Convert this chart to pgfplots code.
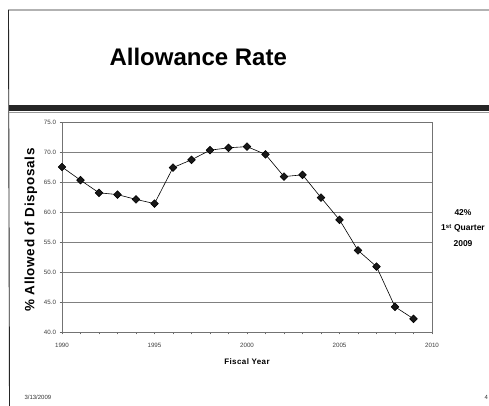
\documentclass[border=0pt]{standalone}
\usepackage{fontspec}
\setmainfont{Liberation Sans}
\newfontfamily\spaced[LetterSpace=5]{Liberation Sans}
\usepackage{pgfplots}
\pgfplotsset{compat=1.18}

\begin{document}
\begin{tikzpicture}[x=1pt,y=1pt]
  % slide area, 489 x 406
  \path[use as bounding box, fill=white] (0,0) rectangle (489,406);
  % slide frame
  \draw[black!85, line width=0.9pt] (489,396) -- (8.5,396) -- (9.5,0);
  % title bar rule
  \fill[black!85] (8.5,295) rectangle (489,301);
  \draw[black!40, line width=0.4pt] (8.5,293.5) -- (489,293.5);
  \node[anchor=west, font=\bfseries\fontsize{24}{28}\selectfont] at (106,349) {Allowance Rate};

  \begin{axis}[
      at={(62pt,74pt)}, anchor=south west,
      scale only axis, width=370pt, height=210pt,
      xmin=1990, xmax=2010, ymin=40, ymax=75,
      xtick={1990,1995,...,2010},
      minor x tick num=4,
      ytick={40,45,...,75},
      ymajorgrids,
      major grid style={black!50, line width=0.6pt},
      axis line style={black!55, line width=0.6pt},
      tick align=outside,
      tick style={black!60, line width=0.5pt},
      major tick length=2.5pt, minor tick length=2.5pt,
      xtick pos=bottom, ytick pos=left,
      ticklabel style={font=\fontsize{6.2}{7}\selectfont, text=black!75},
      /pgf/number format/assume math mode=true,
      x tick label style={/pgf/number format/1000 sep={}, yshift=-5pt},
      y tick label style={/pgf/number format/.cd, fixed, fixed zerofill, precision=1},
      xlabel={Fiscal Year},
      xlabel style={font=\spaced\bfseries\fontsize{8}{9}\selectfont, yshift=-4pt},
      clip=false,
    ]
    \addplot[black, line width=0.6pt, mark=square*, mark size=2.7pt,
             mark options={rotate=45, fill=black!90, draw=black}]
      coordinates {
        (1990,67.5) (1991,65.3) (1992,63.2) (1993,62.9) (1994,62.1)
        (1995,61.4) (1996,67.4) (1997,68.7) (1998,70.3) (1999,70.7)
        (2000,70.9) (2001,69.6) (2002,65.9) (2003,66.2) (2004,62.4)
        (2005,58.7) (2006,53.6) (2007,50.9) (2008,44.2) (2009,42.2)
      };
  \end{axis}

  \node[rotate=90, font=\spaced\bfseries\fontsize{13.5}{15}\selectfont] at (31,176) {\% Allowed of Disposals};
  \node[align=center, font=\bfseries\fontsize{8.5}{15.5}\selectfont] at (463,178)
    {42\%\\1\textsuperscript{st} Quarter\\2009};
  \node[anchor=west, font=\fontsize{6}{7}\selectfont, text=black!80] at (21,9) {3/13/2009};
  \node[anchor=west, font=\fontsize{6}{7}\selectfont, text=black!80] at (481,9) {4};
\end{tikzpicture}
\end{document}
